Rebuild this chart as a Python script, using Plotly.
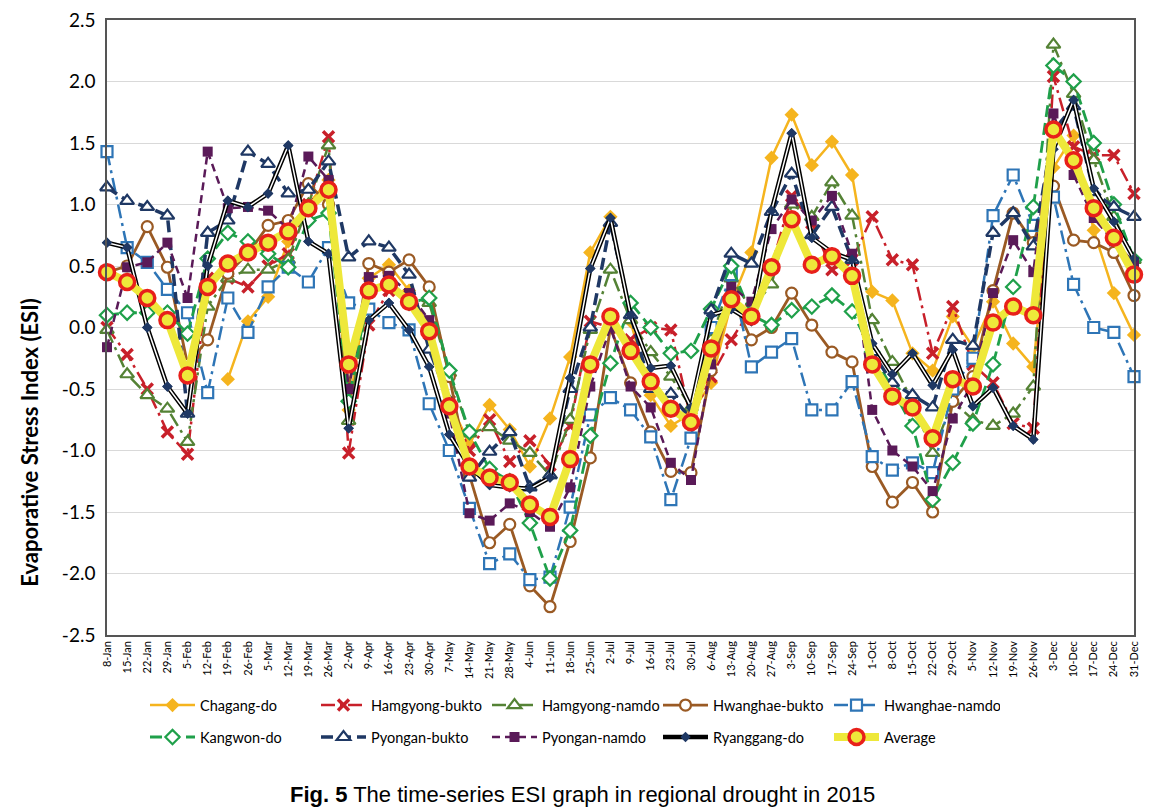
import plotly.graph_objects as go

weeks = ["8-Jan","15-Jan","22-Jan","29-Jan","5-Feb","12-Feb","19-Feb","26-Feb","5-Mar","12-Mar",
         "19-Mar","26-Mar","2-Apr","9-Apr","16-Apr","23-Apr","30-Apr","7-May","14-May","21-May",
         "28-May","4-Jun","11-Jun","18-Jun","25-Jun","2-Jul","9-Jul","16-Jul","23-Jul","30-Jul",
         "6-Aug","13-Aug","20-Aug","27-Aug","3-Sep","10-Sep","17-Sep","24-Sep","1-Oct","8-Oct",
         "15-Oct","22-Oct","29-Oct","5-Nov","12-Nov","19-Nov","26-Nov","3-Dec","10-Dec","17-Dec",
         "24-Dec","31-Dec"]

y_ticks = [-2.5, -2.0, -1.5, -1.0, -0.5, 0.0, 0.5, 1.0, 1.5, 2.0, 2.5]
y_tick_labels = ["-2.5", "-2.0", "-1.5", "-1.0", "-0.5", "0.0", "0.5", "1.0", "1.5", "2.0", "2.5"]

chagang = [None, None, None, None, None, None, -0.42, 0.05, 0.25, 0.7, 1.0, 1.2, -0.67, 0.4, 0.51, 0.3,
           0.0, -0.6, -0.95, -0.63, -0.83, -1.13, -0.74, -0.24, 0.61, 0.90, 0.05, -0.55, -0.8, -0.7,
           -0.45, 0.2, 0.61, 1.38, 1.73, 1.32, 1.51, 1.24, 0.29, 0.22, -0.21, -0.35, 0.09, -0.16,
           0.21, -0.13, -0.32, 1.3, 1.56, 0.79, 0.28, -0.06]
hamgyong_bukto = [0.0, -0.22, -0.5, -0.85, -1.03, 0.4, 0.4, 0.33, 0.5, 0.6, 1.0, 1.55, -1.02, 0.02,
                  0.3, 0.25, -0.05, -0.6, -1.0, -0.75, -1.09, -0.92, -1.12, -0.8, 0.05, 0.0, -0.1,
                  0.0, -0.02, -0.75, -0.4, -0.1, 0.15, 0.5, 1.07, 0.85, 0.47, 0.55, 0.9, 0.55, 0.51,
                  -0.21, 0.17, -0.3, -0.45, -0.78, -0.82, 2.04, 1.47, 1.4, 1.4, 1.09]
hamgyong_namdo = [-0.02, -0.38, -0.55, -0.66, -0.93, 0.17, 0.4, 0.47, 0.47, 0.55, 1.0, 1.48, -0.76,
                  0.3, 0.35, 0.25, 0.2, -0.37, -0.86, -0.81, -0.92, -1.02, -1.2, -0.75, -0.02, 0.47,
                  0.06, -0.2, -0.4, -0.65, -0.1, 0.4, 0.15, 0.35, 1.0, 0.9, 1.18, 0.91, 0.06, -0.28,
                  -0.6, -1.02, -0.6, -0.75, -0.8, -0.7, -0.48, 2.3, 1.9, 1.36, 0.9, 0.55]
hwanghae_bukto = [0.45, 0.5, 0.82, 0.49, -0.3, -0.1, 0.44, 0.6, 0.83, 0.87, 1.17, 1.0, -0.5, 0.52,
                  0.45, 0.55, 0.33, -0.4, -1.2, -1.75, -1.6, -2.1, -2.27, -1.74, -1.06, 0.0, -0.45,
                  -0.85, -1.17, -1.18, -0.35, 0.25, -0.1, 0.0, 0.28, 0.02, -0.2, -0.28, -1.13, -1.42,
                  -1.26, -1.5, -0.6, -0.4, 0.3, 0.93, 0.69, 1.15, 0.71, 0.69, 0.61, 0.26]
hwanghae_namdo = [1.43, 0.65, 0.53, 0.31, 0.12, -0.53, 0.24, -0.04, 0.33, 0.49, 0.37, 0.65, 0.2, 0.15,
                  0.04, -0.02, -0.62, -1.0, -1.47, -1.92, -1.84, -2.05, -2.03, -1.46, -0.71, -0.57,
                  -0.67, -0.89, -1.4, -0.9, 0.0, 0.43, -0.32, -0.2, -0.09, -0.67, -0.67, -0.44, -1.05,
                  -1.16, -1.1, -1.18, -0.5, -0.25, 0.91, 1.24, 0.83, 1.06, 0.35, 0.0, -0.04, -0.4]
kangwon = [0.1, 0.12, 0.12, 0.12, -0.05, 0.56, 0.77, 0.7, 0.6, 0.49, 0.87, 0.93, -0.6, 0.3, 0.35, 0.2,
           0.24, -0.35, -0.85, -1.15, -1.25, -1.59, -2.04, -1.65, -0.88, -0.29, 0.2, 0.0, -0.21, -0.19,
           0.15, 0.5, 0.1, 0.02, 0.14, 0.17, 0.26, 0.13, -0.2, -0.5, -0.8, -1.4, -1.1, -0.78, -0.3,
           0.33, 0.98, 2.13, 2.0, 1.5, 1.0, 0.55]
pyongan_bukto = [1.14, 1.03, 0.98, 0.91, -0.7, 0.77, 0.87, 1.43, 1.33, 1.09, 1.12, 1.35, 0.57, 0.7,
                 0.65, 0.43, -0.18, -0.6, -1.22, -1.01, -0.85, -1.3, -1.2, -0.5, 0.0, 0.85, 0.1, -0.5,
                 -0.54, -0.75, 0.14, 0.6, 0.52, 0.94, 1.25, 0.75, 0.98, 0.55, -0.2, -0.45, -0.55, -0.65,
                 -0.1, -0.15, 0.77, 0.93, 0.66, 1.6, 1.8, 1.1, 0.98, 0.9]
pyongan_namdo = [-0.16, 0.49, 0.53, 0.69, 0.24, 1.43, 0.97, 0.98, 0.95, 0.8, 1.39, 1.2, -0.5, 0.41,
                 0.42, 0.28, 0.06, -0.7, -1.51, -1.57, -1.43, -1.5, -1.62, -1.3, -0.48, 0.0, -0.48,
                 -0.65, -1.1, -1.24, -0.3, 0.33, 0.21, 0.8, 1.04, 0.87, 1.07, 0.6, -0.67, -1.0, -1.13,
                 -1.33, -0.74, -0.45, 0.28, 0.71, 0.45, 1.74, 1.24, 0.89, 0.7, 0.53]
ryanggang = [0.69, 0.65, 0.0, -0.48, -0.7, 0.5, 1.03, 0.98, 1.09, 1.48, 0.7, 0.6, -0.82, 0.06, 0.2,
             -0.02, -0.32, -0.87, -1.13, -1.28, -1.3, -1.31, -1.22, -0.41, 0.48, 0.89, 0.1, -0.33,
             -0.31, -0.65, 0.1, 0.15, 0.05, 0.95, 1.58, 0.73, 0.61, 0.55, -0.13, -0.38, -0.21, -0.47,
             -0.18, -0.64, -0.49, -0.8, -0.91, 1.45, 1.85, 1.13, 0.86, 0.56]
average = [0.45, 0.37, 0.24, 0.06, -0.39, 0.33, 0.52, 0.61, 0.69, 0.78, 0.97, 1.12, -0.30, 0.30, 0.35,
           0.21, -0.03, -0.64, -1.13, -1.22, -1.26, -1.44, -1.54, -1.07, -0.30, 0.09, -0.19, -0.44,
           -0.66, -0.77, -0.17, 0.23, 0.09, 0.49, 0.88, 0.51, 0.58, 0.42, -0.30, -0.56, -0.65, -0.90,
           -0.42, -0.48, 0.04, 0.17, 0.10, 1.61, 1.36, 0.97, 0.73, 0.43]

FONT = "Lato, Liberation Sans, Arial, sans-serif"
fig = go.Figure()

def add(name, y, color, symbol, dash="solid", lw=2.5, msize=10, filled=False, mlw=2.2, legend="legend"):
    fig.add_trace(go.Scatter(
        x=weeks, y=y, name=name, mode="lines+markers", cliponaxis=False, legend=legend,
        line=dict(color=color, width=lw, dash=dash),
        marker=dict(symbol=symbol, size=msize,
                    color=color if filled else "white",
                    line=dict(color=color, width=0 if filled else mlw)),
    ))

add("Chagang-do", chagang, "#F5B41E", "diamond", "solid", 2.5, 11, filled=True)
add("Hamgyong-bukto", hamgyong_bukto, "#C8202A", "x-thin", "14px,5px,3px,5px", 2.5, 11)
fig.data[-1].marker.color = "#C8202A"
fig.data[-1].marker.line.color = "#C8202A"
fig.data[-1].marker.line.width = 3.5
add("Hamgyong-namdo", hamgyong_namdo, "#548235", "triangle-up", "14px,5px,3px,5px", 2.5, 12)
add("Hwanghae-bukto", hwanghae_bukto, "#9A5A24", "circle", "solid", 2.8, 11)
add("Hwanghae-namdo", hwanghae_namdo, "#2E75B6", "square", "14px,5px,3px,5px", 2.5, 11)
add("Kangwon-do", kangwon, "#1FA04A", "diamond", "12px,6px", 2.8, 11, legend="legend2")
add("Pyongan-bukto", pyongan_bukto, "#1F3864", "triangle-up", "12px,6px", 3.5, 12, legend="legend2")
add("Pyongan-namdo", pyongan_namdo, "#5A1A58", "square", "8px,5px", 2.5, 10, filled=True, legend="legend2")

fig.add_trace(go.Scatter(
    x=weeks, y=ryanggang, name="Ryanggang-do", mode="lines+markers", cliponaxis=False,
    legend="legend2", legendgroup="ry", line=dict(color="black", width=4.5),
    marker=dict(symbol="diamond", size=8, color="#1F3864")))
fig.add_trace(go.Scatter(
    x=weeks, y=ryanggang, name="Ryanggang-do", mode="lines+markers", cliponaxis=False,
    legend="legend2", legendgroup="ry", showlegend=False, line=dict(color="white", width=1.5),
    marker=dict(symbol="diamond", size=8, color="#1F3864")))

fig.add_trace(go.Scatter(
    x=weeks, y=average, name="Average", mode="lines+markers", cliponaxis=False, legend="legend2",
    line=dict(color="#EEE83A", width=8),
    marker=dict(symbol="circle", size=15, color="#EEE83A", line=dict(color="#E8201A", width=3.5))))

leg_common = dict(orientation="h", xanchor="left", yanchor="middle",
                  entrywidth=111, entrywidthmode="pixels", font=dict(size=14.5, family=FONT),
                  itemwidth=45, tracegroupgap=0, bgcolor="rgba(0,0,0,0)")

fig.update_layout(
    width=1154, height=802,
    paper_bgcolor="white", plot_bgcolor="white",
    margin=dict(l=99, r=28, t=12, b=175, autoexpand=False),
    font=dict(family=FONT, color="black"),
    showlegend=True,
    legend=dict(x=0.037, y=-0.114, **leg_common),
    legend2=dict(x=0.037, y=-0.166, **leg_common),
    xaxis=dict(type="category", range=[0, 51], tickangle=-90, tickfont=dict(size=11),
               automargin=False,
               showline=True, linecolor="#555", linewidth=1.5, mirror=True,
               showgrid=False, ticks="", ticklen=0),
    yaxis=dict(range=[-2.5, 2.5], tickvals=y_ticks, ticktext=y_tick_labels, automargin=False,
               ticklabeloverflow="allow",
               tickfont=dict(size=19), showline=True, linecolor="#555", linewidth=1.5,
               mirror=True, gridcolor="#D9D9D9", gridwidth=1.2, zeroline=False, ticklabelstandoff=6),
    annotations=[
        dict(text="<b>Evaporative Stress Index (ESI)</b>", xref="paper", yref="paper",
             x=-0.075, y=0.314, xanchor="center", yanchor="middle", textangle=-90,
             showarrow=False, font=dict(size=22, family=FONT)),
        dict(text="<b>Fig. 5</b> The time-series ESI graph in regional drought in 2015",
             xref="paper", yref="paper", x=0.463, y=-0.26, xanchor="center",
             yanchor="middle", showarrow=False, font=dict(size=22, family="Liberation Sans, Arial"))],
)

fig.write_html("out.html")
